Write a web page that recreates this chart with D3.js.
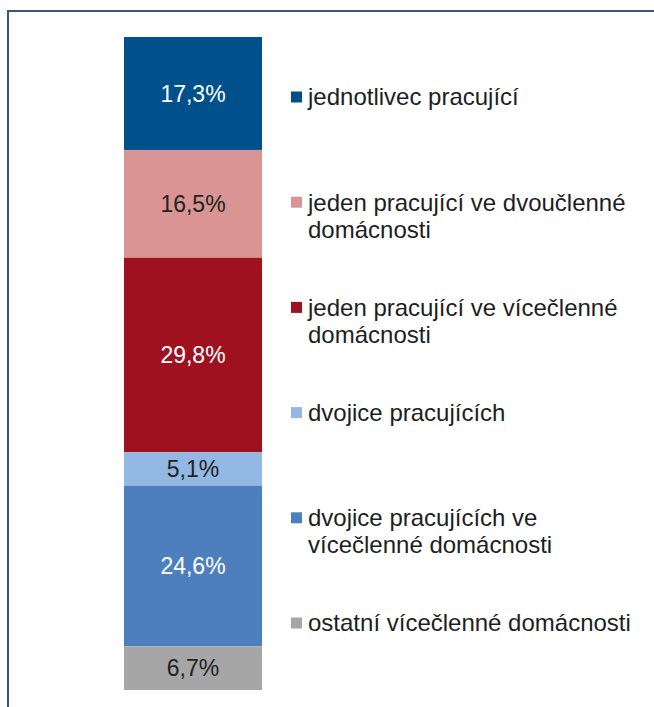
<!DOCTYPE html>
<html>
<head>
<meta charset="utf-8">
<script src="https://cdn.jsdelivr.net/npm/d3@7"></script>
<style>
  body { margin: 0; background: #fff; }
  svg { display: block; font-family: "Liberation Sans", Arial, sans-serif; }
</style>
</head>
<body>
<div id="chart"></div>
<script>
// categories, top to bottom as in the legend
const categories = [
  "jednotlivec pracující",
  "jeden pracující ve dvoučlenné domácnosti",
  "jeden pracující ve vícečlenné domácnosti",
  "dvojice pracujících",
  "dvojice pracujících ve vícečlenné domácnosti",
  "ostatní vícečlenné domácnosti"
];
// legend lines (wrapped as in the picture)
const legendLines = [
  ["jednotlivec pracující"],
  ["jeden pracující ve dvoučlenné", "domácnosti"],
  ["jeden pracující ve vícečlenné", "domácnosti"],
  ["dvojice pracujících"],
  ["dvojice pracujících ve", "vícečlenné domácnosti"],
  ["ostatní vícečlenné domácnosti"]
];
const shares = [17.3, 16.5, 29.8, 5.1, 24.6, 6.7];
const colors = ["#00508b", "#d99493", "#9f111f", "#93b8e3", "#4d7fbe", "#a6a6a6"];
const labelColors = ["#ffffff", "#222222", "#ffffff", "#222222", "#ffffff", "#222222"];

const W = 654, H = 707;
const svg = d3.select("#chart").append("svg")
    .attr("width", W)
    .attr("height", H);

// frame (only top and left edge visible in the crop)
svg.append("rect")
    .attr("x", 8).attr("y", 11)
    .attr("width", W + 20).attr("height", H + 20)
    .attr("fill", "none")
    .attr("stroke", "#3b5579")
    .attr("stroke-width", 2);

// one row for the stack
let row = {};
categories.forEach((c, i) => row[c] = shares[i]);

let stackedData = d3.stack()
    .keys(categories)
    .order(d3.stackOrderReverse)([row]);

let x = d3.scaleBand()
    .domain(["all"])
    .range([124, 262])
    .padding(0);

let y = d3.scaleLinear()
    .domain([0, 100])
    .range([690, 37]);

let color = d3.scaleOrdinal().domain(categories).range(colors);
let labelColor = d3.scaleOrdinal().domain(categories).range(labelColors);

let segs = svg.append("g")
    .selectAll("g")
    .data(stackedData)
    .enter().append("g");

segs.append("rect")
    .attr("x", x("all"))
    .attr("y", d => y(d[0][1]))
    .attr("height", d => y(d[0][0]) - y(d[0][1]))
    .attr("width", x.bandwidth())
    .attr("fill", d => color(d.key));

segs.append("text")
    .attr("x", x("all") + x.bandwidth() / 2)
    .attr("y", d => (y(d[0][0]) + y(d[0][1])) / 2)
    .attr("dy", "0.35em")
    .attr("text-anchor", "middle")
    .attr("font-size", 23)
    .attr("fill", d => labelColor(d.key))
    .text(d => d3.format(".1f")(d[0][1] - d[0][0]).replace(".", ",") + "%");

// legend
let ly = d3.scalePoint()
    .domain(categories)
    .range([97, 623]);

let legend = svg.append("g")
    .selectAll("g")
    .data(categories)
    .enter().append("g")
    .attr("transform", d => "translate(0," + ly(d) + ")");

legend.append("rect")
    .attr("x", 291)
    .attr("y", -5.5)
    .attr("width", 11)
    .attr("height", 11)
    .attr("fill", d => color(d));

legend.append("text")
    .attr("x", 308)
    .attr("font-size", 24)
    .attr("fill", "#1e1e1e")
    .selectAll("tspan")
    .data((d, i) => legendLines[i])
    .enter().append("tspan")
    .attr("x", 308)
    .attr("y", (d, j) => j * 27)
    .attr("dy", "0.35em")
    .text(d => d);
</script>
</body>
</html>
